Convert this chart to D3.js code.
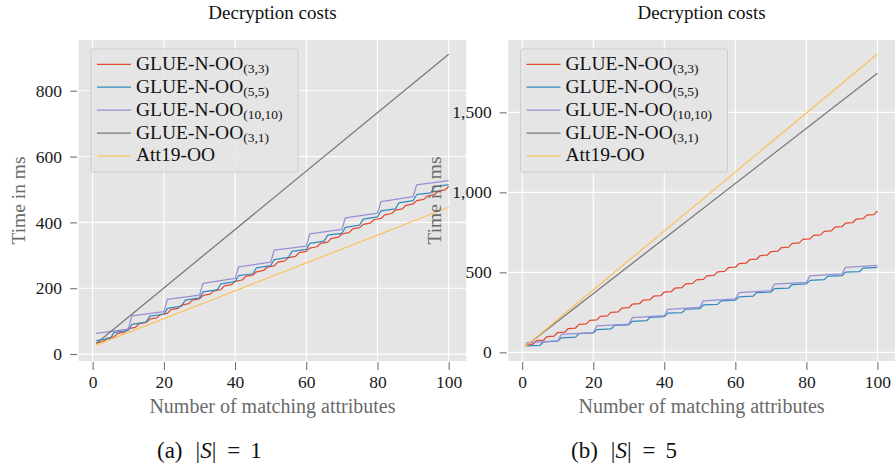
<!DOCTYPE html>
<html>
<head>
<meta charset="utf-8">
<script src="https://cdn.jsdelivr.net/npm/d3@7"></script>
<style>
  body { margin: 0; background: #fff; }
  svg { display: block; }
  text { font-family: "Liberation Serif", "DejaVu Serif", serif; }
</style>
</head>
<body>
<svg id="chart" width="896" height="470"></svg>
<script>
// Decryption costs, two panels: |S| = 1 (left) and |S| = 5 (right)
// Step series are given per group of k attributes: value at the first and at
// the last attribute of each group (k = 3, 5, 10 from the legend subscripts).

const ATTR_MAX = 100;
const X_TICKS = [0, 20, 40, 60, 80, 100];
const Y_TICKS_S1 = [0, 200, 400, 600, 800];
const Y_TICKS_S5 = [0, 500, 1000, 1500];

const LABEL_BASE = ["GLUE-N-OO", "GLUE-N-OO", "GLUE-N-OO", "GLUE-N-OO", "Att19-OO"];
const LABEL_SUB = ["(3,3)", "(5,5)", "(10,10)", "(3,1)", ""];
const COLORS = ["#E24A33", "#348ABD", "#988ED5", "#777777", "#FBC15E"];
const GROUP = [3, 5, 10];

// --- |S| = 1 ---
const s1_g33_first = [34, 48, 63, 77, 92, 106, 120, 135, 149, 164, 178, 192, 207, 221, 236, 250, 264,
  279, 293, 308, 322, 336, 351, 365, 380, 394, 408, 423, 437, 452, 466, 480, 495, 509];
const s1_g33_last = [38, 52, 67, 81, 96, 110, 124, 139, 153, 168, 182, 196, 211, 225, 240, 254, 268,
  283, 297, 312, 326, 340, 355, 369, 384, 398, 412, 427, 441, 456, 470, 484, 499];
const s1_g55_first = [41, 66, 90, 115, 139, 164, 189, 213, 238, 262, 287, 312, 336, 361, 385, 410, 435, 459, 484, 508];
const s1_g55_last = [48, 72, 97, 121, 146, 171, 195, 220, 244, 269, 294, 318, 343, 367, 392, 417, 441, 466, 490, 515];
const s1_g1010_first = [63, 116, 166, 215, 265, 316, 365, 414, 463, 514];
const s1_g1010_last = [76, 129, 179, 230, 279, 328, 379, 428, 478, 527];
const ENDPOINTS_X = [1, 100];
const s1_g31 = [32, 911];
const s1_att19 = [27, 446];

// --- |S| = 5 ---
const s5_g33_first = [48, 73, 99, 124, 149, 175, 200, 225, 250, 276, 301, 326, 352, 377, 402, 428, 453,
  478, 503, 529, 554, 579, 605, 630, 655, 681, 706, 731, 756, 782, 807, 832, 858, 883];
const s5_g33_last = [51, 76, 102, 127, 152, 178, 203, 228, 253, 279, 304, 329, 355, 380, 405, 431, 456,
  481, 506, 532, 557, 582, 608, 633, 658, 684, 709, 734, 759, 785, 810, 835, 861];
const s5_g55_first = [40, 66, 91, 117, 142, 168, 194, 219, 245, 270, 296, 322, 347, 373, 398, 424, 450, 475, 501, 527];
const s5_g55_last = [44, 70, 95, 121, 146, 172, 198, 223, 249, 274, 300, 326, 351, 377, 402, 428, 454, 479, 505, 531];
const s5_g1010_first = [60, 112, 165, 217, 269, 322, 374, 426, 478, 531];
const s5_g1010_last = [72, 124, 177, 229, 281, 334, 386, 438, 490, 543];
const s5_g31 = [40, 1744];
const s5_att19 = [40, 1864];

// corners of a step series: first and last attribute of every group
function steps(k, first, last) {
  const pts = [];
  first.forEach((v, g) => {
    const a = g * k + 1;
    const b = Math.min(a + k - 1, ATTR_MAX);
    pts.push([a, v]);
    if (b > a) pts.push([b, last[g]]);
  });
  return pts;
}

const panels = [
  {
    x0: 78.6, x1: 466.3, yDomain: [-21, 954], yTicks: Y_TICKS_S1, fmt: d3.format("d"),
    ylabelX: 18, legendX: 91, captionX: 157, tag: "(a)", size: "1",
    series: [
      steps(GROUP[0], s1_g33_first, s1_g33_last),
      steps(GROUP[1], s1_g55_first, s1_g55_last),
      steps(GROUP[2], s1_g1010_first, s1_g1010_last),
      d3.zip(ENDPOINTS_X, s1_g31),
      d3.zip(ENDPOINTS_X, s1_att19),
    ],
  },
  {
    x0: 508.2, x1: 895.0, yDomain: [-54, 1952], yTicks: Y_TICKS_S5, fmt: d3.format(","),
    ylabelX: 434, legendX: 520.5, captionX: 571, tag: "(b)", size: "5",
    series: [
      steps(GROUP[0], s5_g33_first, s5_g33_last),
      steps(GROUP[1], s5_g55_first, s5_g55_last),
      steps(GROUP[2], s5_g1010_first, s5_g1010_last),
      d3.zip(ENDPOINTS_X, s5_g31),
      d3.zip(ENDPOINTS_X, s5_att19),
    ],
  },
];

const TOP = 40, BOTTOM = 361;
const svg = d3.select("#chart");

panels.forEach(drawPanel);

function drawPanel(p) {
  const x = d3.scaleLinear().domain([-3.95, 104.95]).range([p.x0, p.x1]);
  const y = d3.scaleLinear().domain(p.yDomain).range([BOTTOM, TOP]);
  const g = svg.append("g");

  // plot background + white grid
  g.append("rect")
    .attr("x", p.x0).attr("y", TOP)
    .attr("width", p.x1 - p.x0).attr("height", BOTTOM - TOP)
    .attr("fill", "#e5e5e5");

  g.append("g").selectAll("line")
    .data(X_TICKS).join("line")
    .attr("x1", d => x(d)).attr("x2", d => x(d))
    .attr("y1", TOP).attr("y2", BOTTOM)
    .attr("stroke", "#fff").attr("stroke-width", 1.1);
  g.append("g").selectAll("line")
    .data(p.yTicks).join("line")
    .attr("x1", p.x0).attr("x2", p.x1)
    .attr("y1", d => y(d)).attr("y2", d => y(d))
    .attr("stroke", "#fff").attr("stroke-width", 1.1);

  // ticks and tick labels
  const xAxis = g.append("g").attr("transform", `translate(0,${BOTTOM + 1})`)
    .call(d3.axisBottom(x).tickValues(X_TICKS).tickSize(8).tickPadding(6).tickFormat(d3.format("d")));
  const yAxis = g.append("g").attr("transform", `translate(${p.x0 - 1.5},0)`)
    .call(d3.axisLeft(y).tickValues(p.yTicks).tickSize(7).tickPadding(8).tickFormat(p.fmt));
  [xAxis, yAxis].forEach(ax => {
    ax.select(".domain").remove();
    ax.selectAll(".tick line").attr("stroke", "#555").attr("stroke-width", 0.9);
    ax.selectAll(".tick text")
      .attr("fill", "#1a1a1a")
      .style("font-family", "'Liberation Serif', serif")
      .style("font-size", "17.5px");
  });

  // lines
  const line = d3.line().x(d => x(d[0])).y(d => y(d[1]));
  g.append("g").selectAll("path")
    .data(p.series).join("path")
    .attr("d", line)
    .attr("fill", "none")
    .attr("stroke", (d, i) => COLORS[i])
    .attr("stroke-width", 1.25)
    .attr("stroke-linejoin", "round");

  // title and axis labels
  const cx = (p.x0 + p.x1) / 2;
  g.append("text")
    .attr("x", cx).attr("y", 18.5)
    .attr("text-anchor", "middle")
    .attr("fill", "#111")
    .style("font-size", "19px")
    .text("Decryption costs");

  g.append("text")
    .attr("x", cx).attr("y", 413)
    .attr("text-anchor", "middle")
    .attr("fill", "#6a6a6a")
    .style("font-size", "20px")
    .text("Number of matching attributes");

  g.append("text")
    .attr("transform", `translate(${p.ylabelX},${(TOP + BOTTOM) / 2}) rotate(-90)`)
    .attr("dy", "0.35em")
    .attr("text-anchor", "middle")
    .attr("fill", "#6a6a6a")
    .style("font-size", "19.5px")
    .text("Time in ms");

  // legend
  const lg = g.append("g").attr("transform", `translate(${p.legendX},49)`);
  lg.append("rect")
    .attr("width", 207).attr("height", 123).attr("rx", 2)
    .attr("fill", "rgba(229,229,229,0.8)")
    .attr("stroke", "#cccccc").attr("stroke-width", 1);
  const rows = lg.selectAll("g.row")
    .data(LABEL_BASE).join("g")
    .attr("class", "row")
    .attr("transform", (d, i) => `translate(0,${15.3 + i * 22.9})`);
  rows.append("line")
    .attr("x1", 6).attr("x2", 40)
    .attr("stroke", (d, i) => COLORS[i]).attr("stroke-width", 1.25);
  const lt = rows.append("text")
    .attr("x", 45).attr("y", 5.5)
    .attr("fill", "#111")
    .style("font-size", "19.5px");
  lt.append("tspan").text(d => d);
  lt.append("tspan")
    .attr("dy", 3.5)
    .style("font-size", "13.5px")
    .text((d, i) => LABEL_SUB[i]);

  // sub-figure caption
  const cap = g.append("text")
    .attr("x", p.captionX).attr("y", 458)
    .attr("fill", "#111")
    .style("font-size", "23px");
  cap.append("tspan").text(p.tag);
  cap.append("tspan").attr("dx", 13).text("|");
  cap.append("tspan").style("font-style", "italic").text("S");
  cap.append("tspan").text("|");
  cap.append("tspan").attr("dx", 11).text("=");
  cap.append("tspan").attr("dx", 10).text(p.size);
}
</script>
</body>
</html>
